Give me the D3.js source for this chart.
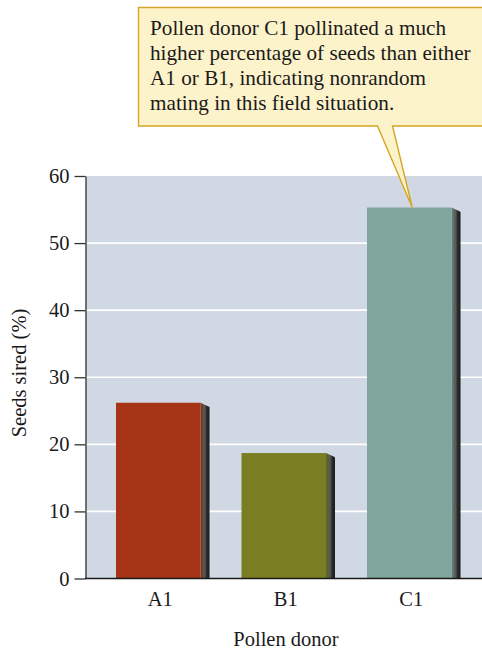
<!DOCTYPE html>
<html>
<head>
<meta charset="utf-8">
<script src="https://cdn.jsdelivr.net/npm/d3@7"></script>
<style>
  html, body { margin: 0; padding: 0; background: #ffffff; }
  svg { display: block; }
  text { font-family: "Liberation Serif", "Times New Roman", serif; fill: #1a1a1a; }
</style>
</head>
<body>
<svg id="chart" width="482" height="649"></svg>
<script>
// Seeds sired by each pollen donor (%)
const donors = ["A1", "B1", "C1"];
const seedsSired = [26.2, 18.7, 55.3];
const barColors = ["#a53516", "#7a7d22", "#7fa59c"];
const yTicks = [0, 10, 20, 30, 40, 50, 60];
const calloutLines = [
  "Pollen donor C1 pollinated a much",
  "higher percentage of seeds than either",
  "A1 or B1, indicating nonrandom",
  "mating in this field situation."
];
const calloutTarget = "C1";

const svg = d3.select("#chart");
const plot = { left: 85.5, right: 482, top: 176, bottom: 578.5 };

const y = d3.scaleLinear().domain([0, 60]).range([plot.bottom, plot.top]);
const x = d3.scaleBand().domain(donors)
  .range([95.5, 472])
  .paddingInner(0.3267).paddingOuter(0.16335);

// gradients for the bar side faces
const defs = svg.append("defs");
donors.forEach((d, i) => {
  const g = defs.append("linearGradient").attr("id", "side" + i)
    .attr("x1", "0").attr("x2", "1").attr("y1", "0").attr("y2", "0");
  const base = d3.color(barColors[i]);
  g.append("stop").attr("offset", "0%").attr("stop-color", base.darker(0.6));
  g.append("stop").attr("offset", "45%").attr("stop-color", "#555a58");
  g.append("stop").attr("offset", "70%").attr("stop-color", "#2a2a2a");
  g.append("stop").attr("offset", "100%").attr("stop-color", "#1a1a1a");
});

// plot background
svg.append("rect")
  .attr("x", plot.left).attr("y", plot.top)
  .attr("width", plot.right - plot.left).attr("height", plot.bottom - plot.top)
  .attr("fill", "#d0d8e3");

// horizontal grid lines
svg.append("g").selectAll("line")
  .data(yTicks.filter(t => t > 0 && t < 60))
  .join("line")
  .attr("x1", plot.left).attr("x2", plot.right)
  .attr("y1", d => y(d)).attr("y2", d => y(d))
  .attr("stroke", "#ffffff").attr("stroke-width", 1.6);

// bars with a slanted shaded side
const depth = 9, drop = 4.5;
const bars = svg.append("g").selectAll("g").data(donors).join("g");
bars.append("path")
  .attr("d", (d, i) => {
    const r = x(d) + x.bandwidth(), t = y(seedsSired[i]);
    return `M${r},${t} L${r + depth - 1.5},${t + drop - 1} L${r + depth},${t + drop} L${r + depth},${plot.bottom} L${r},${plot.bottom} Z`;
  })
  .attr("fill", (d, i) => `url(#side${i})`);
bars.append("rect")
  .attr("x", d => x(d))
  .attr("y", (d, i) => y(seedsSired[i]))
  .attr("width", x.bandwidth())
  .attr("height", (d, i) => plot.bottom - y(seedsSired[i]))
  .attr("fill", (d, i) => barColors[i]);

// y axis
const yAxis = svg.append("g")
  .attr("transform", `translate(${plot.left},0)`)
  .call(d3.axisLeft(y).tickValues(yTicks).tickSize(11).tickPadding(5).tickSizeOuter(0));
yAxis.select(".domain").attr("stroke", "#333").attr("stroke-width", 1.3);
yAxis.selectAll(".tick line").attr("stroke", "#333").attr("stroke-width", 1.3);
yAxis.selectAll(".tick text")
  .style("font-family", "'Liberation Serif', 'Times New Roman', serif")
  .style("font-size", "20.5px").attr("fill", "#1a1a1a");

// baseline
svg.append("line")
  .attr("x1", plot.left - 0.5).attr("x2", plot.right)
  .attr("y1", plot.bottom).attr("y2", plot.bottom)
  .attr("stroke", "#1a1a1a").attr("stroke-width", 1.4);

// x category labels
svg.append("g").selectAll("text").data(donors).join("text")
  .attr("x", d => x(d) + x.bandwidth() / 2 + 2)
  .attr("y", 606)
  .attr("text-anchor", "middle")
  .style("font-size", "20.5px")
  .text(d => d);

// axis titles
svg.append("text")
  .attr("x", 286).attr("y", 645.5)
  .attr("text-anchor", "middle")
  .style("font-size", "20.5px")
  .text("Pollen donor");
svg.append("text")
  .attr("transform", "translate(26,373) rotate(-90)")
  .attr("text-anchor", "middle")
  .style("font-size", "20.5px")
  .text("Seeds sired (%)");

// callout box with pointer to the C1 bar
const ti = donors.indexOf(calloutTarget);
const tipX = x(calloutTarget) + x.bandwidth() / 2 + 3;
const tipY = y(seedsSired[ti]);
const box = { left: 138.5, top: 7.5, right: 490, bottom: 126 };
const callout = svg.append("g");
callout.append("path")
  .attr("d", `M${box.left},${box.top} L${box.right},${box.top} L${box.right},${box.bottom} L392.5,${box.bottom} L${tipX},${tipY} L377.5,${box.bottom} L${box.left},${box.bottom} Z`)
  .attr("fill", "#fdf3cb")
  .attr("stroke", "#d4a526")
  .attr("stroke-width", 1.4)
  .attr("stroke-linejoin", "miter");
callout.selectAll("text").data(calloutLines).join("text")
  .attr("x", 150)
  .attr("y", (d, i) => 35 + i * 25)
  .style("font-size", "21.2px")
  .text(d => d);
</script>
</body>
</html>
